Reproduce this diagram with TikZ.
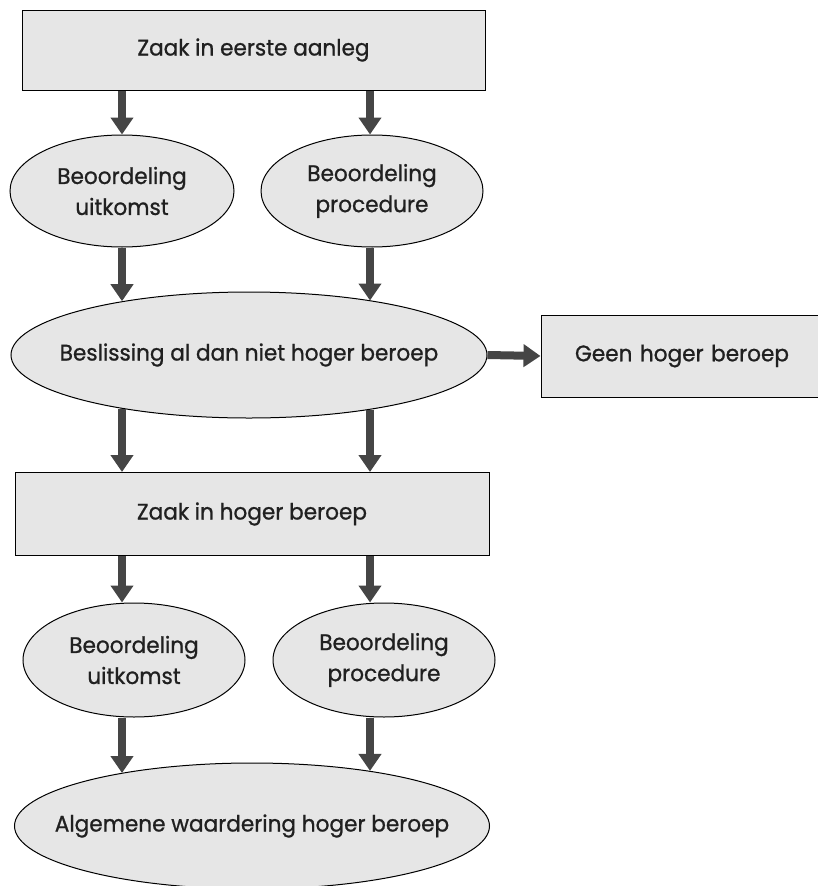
\documentclass[tikz,border=0pt]{standalone}
\usepackage{fontspec}
\setmainfont{Poppins}[FakeBold=0.9,FakeStretch=0.96]
\usetikzlibrary{arrows.meta,shapes.geometric}
\definecolor{boxfill}{HTML}{E6E6E6}
\definecolor{arrowgray}{HTML}{454545}
\definecolor{textgray}{HTML}{202020}
\tikzset{
  base/.style={draw=black,line width=1pt,fill=boxfill,text=textgray,
    font=\fontsize{22.5}{31}\selectfont,align=center,inner sep=0pt},
  rectbox/.style={base,rectangle},
  ellbox/.style={base,ellipse,inner xsep=-60pt},
  arr/.style={draw=arrowgray,line width=8pt,
    -{Triangle[width=22pt,length=17pt]}},
}
\begin{document}
\begin{tikzpicture}[x=1pt,y=-1pt]
\useasboundingbox (0,0) rectangle (818,886);
\clip (0,0) rectangle (818,886);
\coordinate (L) at (122,0);
\coordinate (R) at (370,0);
\node[rectbox,minimum width=463pt,minimum height=80pt] (zaak1) at (253.5,50) {Zaak in eerste aanleg};
\node[ellbox,minimum width=224pt,minimum height=112pt] (uit1) at (122,191) {Beoordeling\\uitkomst};
\node[ellbox,minimum width=222pt,minimum height=112pt] (proc1) at (372,191) {Beoordeling\\procedure};
\node[ellbox,minimum width=476pt,minimum height=126pt] (besl) at (249,355) {Beslissing al dan niet hoger beroep};
\node[rectbox,minimum width=290pt,minimum height=82pt,text width=282pt] (geen) at (686,356) {Geen hoger beroep\hspace*{8pt}};
\node[rectbox,minimum width=474pt,minimum height=83pt] (zaak2) at (252,514) {Zaak in hoger beroep};
\node[ellbox,minimum width=222pt,minimum height=114pt] (uit2) at (134,660) {Beoordeling\\uitkomst};
\node[ellbox,minimum width=222pt,minimum height=114pt] (proc2) at (384,660) {Beoordeling\\procedure};
\node[ellbox,minimum width=475pt,minimum height=126pt] (alg) at (252,826) {Algemene waardering hoger beroep};
\draw[arr] (zaak1.south -| L) -- (uit1.north -| L);
\draw[arr] (zaak1.south -| R) -- (proc1.north -| R);
\draw[arr] (uit1.south -| L) -- (besl.157 -| L);
\draw[arr] (proc1.south -| R) -- (besl.24 -| R);
\draw[arr] (besl.east) -- (geen.west);
\draw[arr] (besl.203 -| L) -- (zaak2.north -| L);
\draw[arr] (besl.336 -| R) -- (zaak2.north -| R);
\draw[arr] (zaak2.south -| L) -- (uit2.north -| L);
\draw[arr] (zaak2.south -| R) -- (proc2.north -| R);
\draw[arr] (uit2.south -| L) -- (alg.158 -| L);
\draw[arr] (proc2.south -| R) -- (alg.25 -| R);
\end{tikzpicture}
\end{document}
